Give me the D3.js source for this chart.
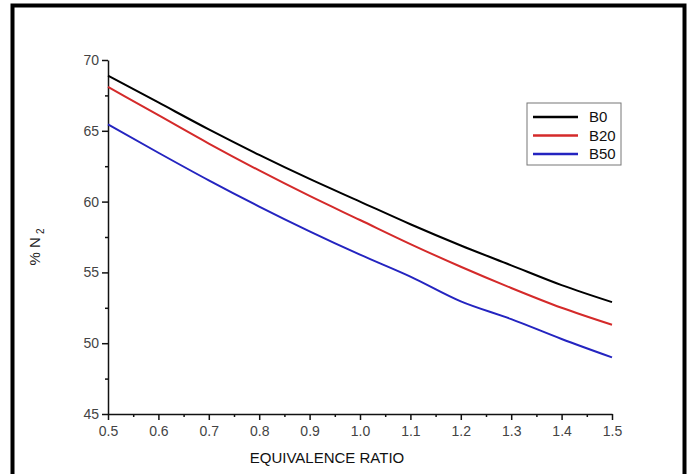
<!DOCTYPE html>
<html>
<meta charset="utf-8">
<script src="https://d3js.org/d3.v7.min.js"></script>
<style>
  body { margin: 0; background: #fff; }
  svg text { font-family: "Liberation Sans", Arial, sans-serif; }
</style>
<div id="chart"></div>
<script>

// data
var ratio = [0.5, 0.6, 0.7, 0.8, 0.9, 1.0, 1.1, 1.2, 1.3, 1.4, 1.5];
var b0  = [68.9, 67.0, 65.1, 63.3, 61.6, 60.0, 58.4, 56.9, 55.5, 54.1, 52.9];
var b20 = [68.1, 66.1, 64.1, 62.2, 60.4, 58.7, 57.0, 55.4, 53.9, 52.5, 51.3];
var b50 = [65.45, 63.45, 61.5, 59.65, 57.9, 56.25, 54.7, 52.95, 51.7, 50.3, 49.0];
var seriesNames = ["B0", "B20", "B50"];
var seriesColors = ["#000000", "#d42a2a", "#2424c0"];
var xTicks = [0.5, 0.6, 0.7, 0.8, 0.9, 1.0, 1.1, 1.2, 1.3, 1.4, 1.5];
var yTicks = [45, 50, 55, 60, 65, 70];

var W = 690, H = 474;
var margin = {top: 60, right: 78, bottom: 60, left: 108};
var width = W - margin.left - margin.right,
    height = H - margin.top - margin.bottom;

var svg = d3.select("#chart")
  .append("svg")
    .attr("width", W)
    .attr("height", H);

// outer frame
svg.append("rect")
  .attr("x", 12.5).attr("y", 5.5)
  .attr("width", 672).attr("height", 500)
  .attr("fill", "none")
  .attr("stroke", "#000")
  .attr("stroke-width", 4);

var g = svg.append("g")
  .attr("transform", "translate(" + margin.left + "," + margin.top + ")");

var x = d3.scaleLinear().domain([0.5, 1.5]).range([0, width]);
var y = d3.scaleLinear().domain([45, 70]).range([height, 0]);

// minor ticks
g.append("g")
  .attr("transform", "translate(0," + height + ")")
  .call(d3.axisBottom(x).tickValues(d3.range(0.55, 1.5, 0.1)).tickSize(3).tickFormat(""))
  .call(function(a){ a.select(".domain").remove(); });
g.append("g")
  .call(d3.axisLeft(y).tickValues(d3.range(47.5, 70, 5)).tickSize(3).tickFormat(""))
  .call(function(a){ a.select(".domain").remove(); });

// X axis
var xAxis = g.append("g")
  .attr("transform", "translate(0," + height + ")")
  .call(d3.axisBottom(x).tickValues(xTicks).tickSize(6).tickSizeOuter(0).tickFormat(d3.format(".1f")));
xAxis.selectAll("text").attr("font-size", 14).attr("fill", "#444").attr("dy", "0.9em");

// Y axis
var yAxis = g.append("g")
  .call(d3.axisLeft(y).tickValues(yTicks).tickSize(6).tickSizeOuter(0));
yAxis.selectAll("text").attr("font-size", 14).attr("fill", "#444");

g.selectAll(".domain, .tick line").attr("stroke", "#111").attr("stroke-width", 1.5);

// axis titles
svg.append("text")
  .attr("x", 327)
  .attr("y", 463)
  .attr("text-anchor", "middle")
  .attr("font-size", 15)
  .attr("fill", "#111")
  .text("EQUIVALENCE RATIO");

var yt = svg.append("text")
  .attr("transform", "translate(40,247) rotate(-90)")
  .attr("text-anchor", "middle")
  .attr("font-size", 15)
  .attr("fill", "#222");
yt.append("tspan").text("% N");
yt.append("tspan").attr("font-size", 10).attr("dx", 3).attr("dy", 4).text("2");

// lines
var allSeries = [b0, b20, b50];
var line = d3.line()
  .x(function(d, i){ return x(ratio[i]); })
  .y(function(d){ return y(d); })
  .curve(d3.curveMonotoneX);

g.selectAll(".series")
  .data(allSeries)
  .enter()
  .append("path")
    .attr("class", "series")
    .attr("d", line)
    .attr("fill", "none")
    .attr("stroke", function(d, i){ return seriesColors[i]; })
    .attr("stroke-width", 2);

// legend
var lg = svg.append("g").attr("transform", "translate(527,103)");
lg.append("rect")
  .attr("width", 94).attr("height", 62)
  .attr("fill", "#fff")
  .attr("stroke", "#777")
  .attr("stroke-width", 1);
seriesNames.forEach(function(name, i){
  var yy = 14 + i * 18.5;
  lg.append("line")
    .attr("x1", 6).attr("x2", 51)
    .attr("y1", yy).attr("y2", yy)
    .attr("stroke", seriesColors[i])
    .attr("stroke-width", 2.5);
  lg.append("text")
    .attr("x", 62).attr("y", yy + 5)
    .attr("font-size", 15)
    .attr("fill", "#111")
    .text(name);
});

</script>
</html>
